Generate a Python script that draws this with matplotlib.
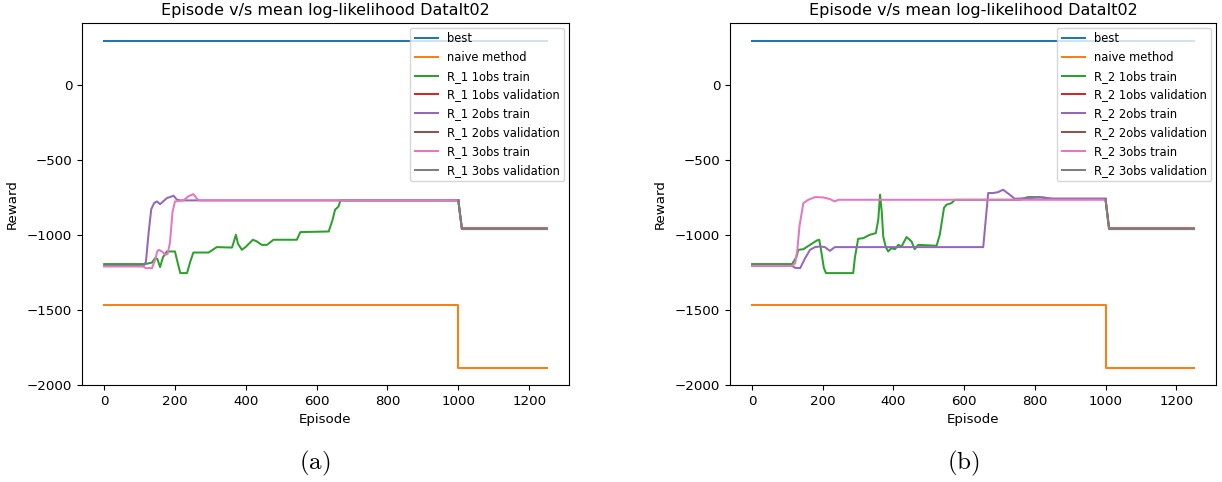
import matplotlib
matplotlib.use('Agg')
import matplotlib.pyplot as plt

plt.rcParams['mathtext.fontset'] = 'cm'
plt.rcParams['font.size'] = 9.6
plt.rcParams['lines.linewidth'] = 1.45

# Data (episode, reward)
best_x = [0, 1250]
best_y = [290, 290]
naive_x = [0, 1000, 1000, 1250]
naive_y = [-1467, -1467, -1889, -1889]

# left panel, R_1
r1_1obs_x = [0, 116, 135, 144, 150, 158, 166, 177, 200, 207, 215, 234, 243, 252, 295, 318, 361, 367,
             372, 378, 389, 400, 420, 431, 445, 460, 478, 544, 554, 634, 645, 652, 662, 667, 1000]
r1_1obs_y = [-1195, -1195, -1185, -1155, -1160, -1215, -1150, -1111, -1111, -1180, -1255, -1255, -1180,
             -1118, -1118, -1082, -1085, -1040, -1000, -1060, -1100, -1080, -1033, -1044, -1067, -1067,
             -1033, -1033, -982, -978, -900, -833, -811, -771, -771]
r1_2obs_x = [0, 111, 118, 125, 133, 141, 149, 158, 177, 196, 205, 215, 1000]
r1_2obs_y = [-1207, -1207, -1180, -1000, -830, -789, -778, -796, -756, -740, -765, -771, -771]
r1_3obs_x = [0, 110, 118, 135, 144, 150, 154, 163, 173, 179, 186, 193, 200, 224, 238, 252, 262, 268, 1000]
r1_3obs_y = [-1211, -1211, -1222, -1222, -1167, -1110, -1100, -1111, -1133, -1129, -1050, -850, -778,
             -771, -744, -729, -760, -771, -771]
r1_val_x = [1000, 1010, 1250]
r1_1obs_val_y = [-771, -957, -957]
r1_2obs_val_y = [-771, -960, -960]
r1_3obs_val_y = [-771, -962, -962]

# right panel, R_2
r2_1obs_x = [0, 113, 125, 131, 145, 164, 183, 190, 195, 203, 209, 286, 291, 300, 315, 333, 350, 357, 362,
             367, 371, 378, 385, 394, 404, 414, 423, 437, 451, 460, 470, 522, 531, 543, 550, 564, 574,
             757, 780, 813, 842, 1000]
r2_1obs_y = [-1195, -1195, -1150, -1100, -1096, -1067, -1038, -1033, -1100, -1220, -1255, -1255, -1150,
             -1027, -1022, -1000, -989, -900, -733, -850, -1011, -1080, -1111, -1089, -1096, -1067, -1078,
             -1015, -1044, -1096, -1067, -1073, -1000, -820, -800, -789, -767, -767, -749, -749, -760, -760]
r2_2obs_x = [0, 113, 122, 136, 150, 164, 178, 192, 206, 220, 234, 654, 661, 668, 682, 696, 710, 729, 743,
             823, 851, 1000]
r2_2obs_y = [-1207, -1207, -1220, -1222, -1156, -1100, -1082, -1078, -1082, -1107, -1082, -1082, -900,
             -722, -722, -716, -700, -733, -760, -751, -760, -760]
r2_3obs_x = [0, 112, 122, 128, 134, 145, 159, 178, 201, 220, 234, 244, 1000]
r2_3obs_y = [-1207, -1207, -1190, -1100, -944, -789, -767, -749, -751, -762, -778, -767, -767]
r2_val_x = [1000, 1010, 1250]
r2_1obs_val_y = [-765, -957, -957]
r2_2obs_val_y = [-765, -960, -960]
r2_3obs_val_y = [-765, -962, -962]

fig = plt.figure(figsize=(12.22, 4.82), dpi=100)
ax1 = fig.add_axes([82 / 1222, 1 - 385 / 482, 487 / 1222, 362 / 482])
ax2 = fig.add_axes([730 / 1222, 1 - 385 / 482, 486 / 1222, 362 / 482])

panels = [
    (ax1, 'R_1', r1_1obs_x, r1_1obs_y, r1_2obs_x, r1_2obs_y, r1_3obs_x, r1_3obs_y,
     r1_val_x, r1_1obs_val_y, r1_2obs_val_y, r1_3obs_val_y),
    (ax2, 'R_2', r2_1obs_x, r2_1obs_y, r2_2obs_x, r2_2obs_y, r2_3obs_x, r2_3obs_y,
     r2_val_x, r2_1obs_val_y, r2_2obs_val_y, r2_3obs_val_y),
]

for ax, name, x1, y1, x2, y2, x3, y3, vx, v1, v2, v3 in panels:
    ax.plot(best_x, best_y, label='best')
    ax.plot(naive_x, naive_y, label='naive method')
    ax.plot(x1, y1, label=name + ' 1obs train')
    ax.plot(vx, v1, label=name + ' 1obs validation')
    ax.plot(x2, y2, label=name + ' 2obs train')
    ax.plot(vx, v2, label=name + ' 2obs validation')
    ax.plot(x3, y3, label=name + ' 3obs train')
    ax.plot(vx, v3, label=name + ' 3obs validation')
    ax.set_title('Episode v/s mean log-likelihood DataIt02', fontsize=11.5)
    ax.set_xlabel('Episode')
    ax.set_ylabel('Reward', labelpad=6)
    ax.set_ylim(-2000, 410)
    ax.set_xticks([0, 200, 400, 600, 800, 1000, 1200])
    ax.set_yticks([0, -500, -1000, -1500, -2000])
    ax.legend(loc='upper right', fontsize=8.3, labelspacing=0.5, borderaxespad=0.4)

fig.text(315 / 1222, 1 - 463 / 482, r'$\mathrm{(a)}$', fontsize=18, ha='center', va='center')
fig.text(963 / 1222, 1 - 463 / 482, r'$\mathrm{(b)}$', fontsize=18, ha='center', va='center')

fig.savefig('out.png', dpi=100)
